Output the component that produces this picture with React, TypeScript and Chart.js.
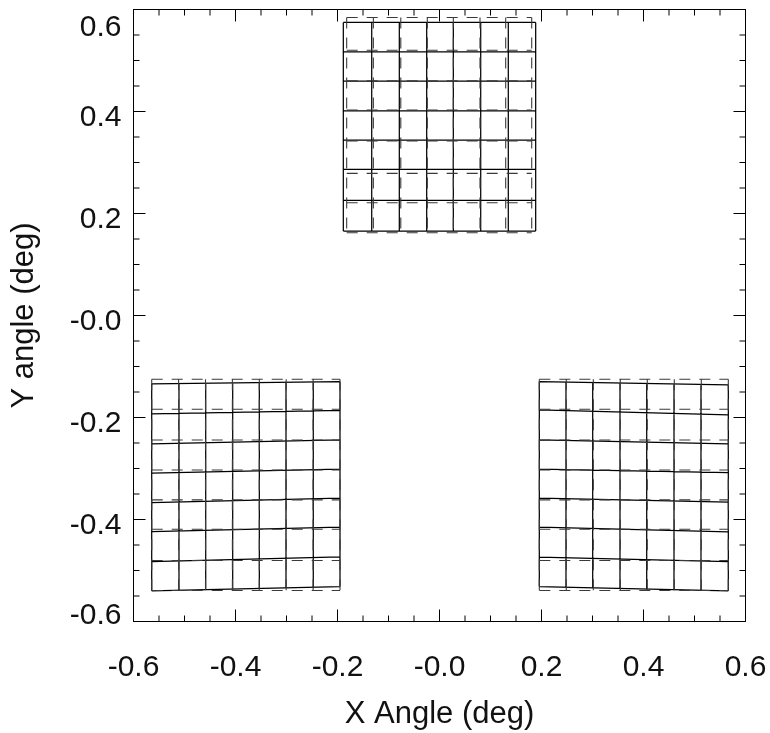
import React, { useEffect, useRef } from "react";
import { Chart, registerables } from "chart.js";

Chart.register(...registerables);

// ---- Axis ticks ----
const tickValues = [-0.6, -0.4, -0.2, 0, 0.2, 0.4, 0.6];
const xTickLabels = ["-0.6", "-0.4", "-0.2", "-0.0", "0.2", "0.4", "0.6"];
const yTickLabels = ["-0.6", "-0.4", "-0.2", "-0.0", "0.2", "0.4", "0.6"];
const minorTickValues = [
  -0.55, -0.5, -0.45, -0.35, -0.3, -0.25, -0.15, -0.1, -0.05,
  0.05, 0.1, 0.15, 0.25, 0.3, 0.35, 0.45, 0.5, 0.55,
];

// ---- Top field (centre) ----
const topDistX = [-0.1886, -0.1329, -0.0788, -0.0251, 0.0271, 0.0808, 0.1349, 0.1886];
const topDistY = [0.5746, 0.517, 0.4595, 0.4013, 0.3439, 0.2865, 0.2258, 0.1656];
const topIdealX = [-0.182, -0.1297, -0.0759, -0.0239, 0.0271, 0.0794, 0.1298, 0.1808];
const topIdealY = [0.5844, 0.5202, 0.4604, 0.4027, 0.3425, 0.2786, 0.221, 0.1622];

// ---- Bottom-left field ----
const leftDistX = [-0.5643, -0.5108, -0.4584, -0.4055, -0.3533, -0.301, -0.2475, -0.1951];
const leftDistYAtLeft = [-0.1342, -0.193, -0.2518, -0.3093, -0.3668, -0.4237, -0.4825, -0.5399];
const leftDistYAtRight = [-0.1297, -0.1858, -0.244, -0.3014, -0.3582, -0.4151, -0.4733, -0.5315];
const leftIdealX = [-0.5643, -0.5116, -0.4588, -0.4061, -0.3533, -0.3006, -0.2478, -0.1951];
const leftIdealY = [-0.125, -0.1838, -0.244, -0.3028, -0.3616, -0.419, -0.4805, -0.5393];

// ---- Bottom-right field ----
const rightDistX = [0.1957, 0.248, 0.3004, 0.3539, 0.4063, 0.4598, 0.5127, 0.5663];
const rightDistYAtLeft = [-0.1297, -0.1852, -0.244, -0.3014, -0.3582, -0.4151, -0.4739, -0.5315];
const rightDistYAtRight = [-0.1362, -0.195, -0.2518, -0.3081, -0.366, -0.4243, -0.4825, -0.5399];
const rightIdealX = [0.1957, 0.2486, 0.3016, 0.3545, 0.4074, 0.4604, 0.5133, 0.5663];
const rightIdealY = [-0.125, -0.1838, -0.244, -0.3028, -0.3616, -0.419, -0.4805, -0.5393];

type Pt = { x: number; y: number | null };

// Build a mesh (rows + columns) as one polyline with gaps.
function mesh(xs: number[], yLeft: number[], yRight: number[]): Pt[] {
  const pts: Pt[] = [];
  const x0 = xs[0];
  const x1 = xs[xs.length - 1];
  const n = yLeft.length;
  for (let i = 0; i < n; i++) {
    pts.push({ x: x0, y: yLeft[i] });
    pts.push({ x: x1, y: yRight[i] });
    pts.push({ x: x1, y: null });
  }
  for (const xv of xs) {
    const t = (xv - x0) / (x1 - x0);
    const yTop = yLeft[0] + (yRight[0] - yLeft[0]) * t;
    const yBot = yLeft[n - 1] + (yRight[n - 1] - yLeft[n - 1]) * t;
    pts.push({ x: xv, y: yTop });
    pts.push({ x: xv, y: yBot });
    pts.push({ x: xv, y: null });
  }
  return pts;
}

const FONT = "'Liberation Sans', Arial, Helvetica, sans-serif";
const DASH = [11, 9];

const framePlugin = {
  id: "idlFrame",
  afterDraw(chart: any) {
    const { ctx, chartArea: a, scales } = chart;
    const xs = scales.x;
    const ys = scales.y;
    ctx.save();
    ctx.strokeStyle = "#000";
    ctx.lineWidth = 1;
    ctx.strokeRect(a.left, a.top, a.right - a.left, a.bottom - a.top);
    ctx.beginPath();
    const tick = (v: number, len: number) => {
      const px = xs.getPixelForValue(v);
      ctx.moveTo(px, a.bottom);
      ctx.lineTo(px, a.bottom - len);
      ctx.moveTo(px, a.top);
      ctx.lineTo(px, a.top + len);
      const py = ys.getPixelForValue(v);
      ctx.moveTo(a.left, py);
      ctx.lineTo(a.left + len, py);
      ctx.moveTo(a.right, py);
      ctx.lineTo(a.right - len, py);
    };
    tickValues.forEach((v) => tick(v, 12));
    minorTickValues.forEach((v) => tick(v, 6));
    ctx.stroke();
    ctx.restore();
  },
};

function labelIndex(value: number): number {
  return tickValues.findIndex((t) => Math.abs(t - value) < 1e-6);
}

export default function App() {
  const ref = useRef<HTMLCanvasElement | null>(null);

  useEffect(() => {
    if (!ref.current) return;
    const dashed = { borderColor: "#3a3a3a", borderWidth: 1.1, borderDash: DASH, pointRadius: 0, fill: false, spanGaps: false };
    const solid = { borderColor: "#000", borderWidth: 1.25, pointRadius: 0, fill: false, spanGaps: false };
    const chart = new Chart(ref.current, {
      type: "line",
      data: {
        datasets: [
          { label: "top ideal", data: mesh(topIdealX, topIdealY, topIdealY), ...dashed },
          { label: "left ideal", data: mesh(leftIdealX, leftIdealY, leftIdealY), ...dashed },
          { label: "right ideal", data: mesh(rightIdealX, rightIdealY, rightIdealY), ...dashed },
          { label: "top distorted", data: mesh(topDistX, topDistY, topDistY), ...solid },
          { label: "left distorted", data: mesh(leftDistX, leftDistYAtLeft, leftDistYAtRight), ...solid },
          { label: "right distorted", data: mesh(rightDistX, rightDistYAtLeft, rightDistYAtRight), ...solid },
        ] as any,
      },
      plugins: [framePlugin],
      options: {
        animation: false,
        responsive: false,
        events: [],
        layout: { padding: { top: 9.5, right: 24.5, left: 0, bottom: 0 } },
        plugins: { legend: { display: false }, tooltip: { enabled: false } },
        elements: { line: { tension: 0 } },
        scales: {
          x: {
            type: "linear",
            min: -0.6,
            max: 0.6,
            grid: { display: false, drawTicks: false },
            border: { display: false },
            ticks: {
              stepSize: 0.2,
              autoSkip: false,
              maxRotation: 0,
              padding: 28,
              color: "#111",
              font: { family: FONT, size: 30 },
              callback: (v: any) => {
                const i = labelIndex(Number(v));
                return i >= 0 ? xTickLabels[i] : "";
              },
            },
            title: {
              display: true,
              text: "X Angle (deg)",
              color: "#111",
              font: { family: FONT, size: 31 },
              padding: { top: 0, bottom: 0 },
            },
            afterFit: (s: any) => {
              s.height = 111.5;
              s.paddingLeft = 0;
              s.paddingRight = 0;
            },
          },
          y: {
            type: "linear",
            min: -0.6,
            max: 0.6,
            grid: { display: false, drawTicks: false },
            border: { display: false },
            ticks: {
              stepSize: 0.2,
              autoSkip: false,
              padding: 12,
              labelOffset: 6,
              color: "#111",
              font: { family: FONT, size: 30, lineHeight: 0.8 },
              callback: (v: any) => {
                const i = labelIndex(Number(v));
                if (i < 0) return "";
                const s = yTickLabels[i];
                if (i === 0) return [s, ""];
                if (i === tickValues.length - 1) return ["", s];
                return s;
              },
            },
            title: {
              display: true,
              text: "Y angle (deg)",
              color: "#111",
              font: { family: FONT, size: 31 },
              padding: { top: 6, bottom: 0 },
            },
            afterFit: (s: any) => {
              s.width = 133.5;
              s.paddingTop = 0;
              s.paddingBottom = 0;
            },
          },
        },
      } as any,
    });
    return () => chart.destroy();
  }, []);

  return (
    <div style={{ position: "absolute", left: 0, top: 0, width: 770, height: 733, background: "#fff" }}>
      <canvas ref={ref} width={770} height={733} />
    </div>
  );
}
